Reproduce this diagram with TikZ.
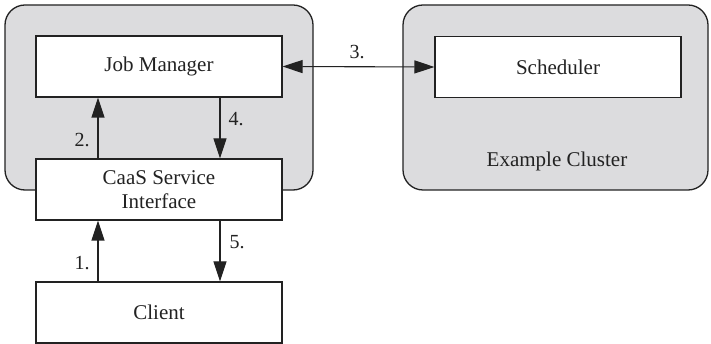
\documentclass[tikz,border=0pt]{standalone}
\usepackage{fontspec}
\setmainfont{Liberation Serif}
\usetikzlibrary{arrows.meta,calc}
\definecolor{grayfill}{HTML}{DCDCDE}
\definecolor{ink}{HTML}{222222}
\tikzset{
  cluster/.style={draw=ink, line width=1.3pt, fill=grayfill, rounded corners=20pt},
  box/.style={draw=ink, line width=1.1pt, fill=white, minimum width=246pt, minimum height=61pt, inner sep=0pt, align=center, text=ink, font=\fontsize{21}{24}\selectfont},
  arr/.style={draw=ink, line width=1.1pt, -{Triangle[length=20pt,width=13pt]}},
  darr/.style={draw=ink, line width=1.1pt, {Triangle[length=20pt,width=13pt]}-{Triangle[length=20pt,width=13pt]}},
  lbl/.style={text=ink, font=\fontsize{20}{22}\selectfont, inner sep=0pt}
}
\begin{document}
\begin{tikzpicture}[x=1pt,y=-1pt]
\useasboundingbox (0,0) rectangle (711,344);
\path[cluster] (5,5) rectangle (313,190);
\path[cluster] (403,5) rectangle (708,190);
\node[box] (jm) at (159,66.5) {Job Manager};
\node[box] (caas) at (159,189.5) {CaaS Service\\Interface};
\node[box] (client) at (159,312.5) {Client};
\node[box] (sch) at (558,67) {Scheduler};
\node[lbl, font=\fontsize{21}{24}\selectfont] (ec) at (557,161) {Example Cluster};
\draw[arr] ([xshift=-61pt]caas.north) -- ([xshift=-61pt]jm.south);
\draw[arr] ([xshift=61pt]jm.south) -- ([xshift=61pt]caas.north);
\draw[arr] ([xshift=-61pt]client.north) -- ([xshift=-61pt]caas.south);
\draw[arr] ([xshift=61pt]caas.south) -- ([xshift=61pt]client.north);
\draw[darr] (jm.east) -- (sch.west);
\node[lbl] (l3) at (357,52) {3.};
\node[lbl] (l2) at (82,140) {2.};
\node[lbl] (l4) at (236,119) {4.};
\node[lbl] (l1) at (82,263) {1.};
\node[lbl] (l5) at (237,242) {5.};
\end{tikzpicture}
\end{document}
